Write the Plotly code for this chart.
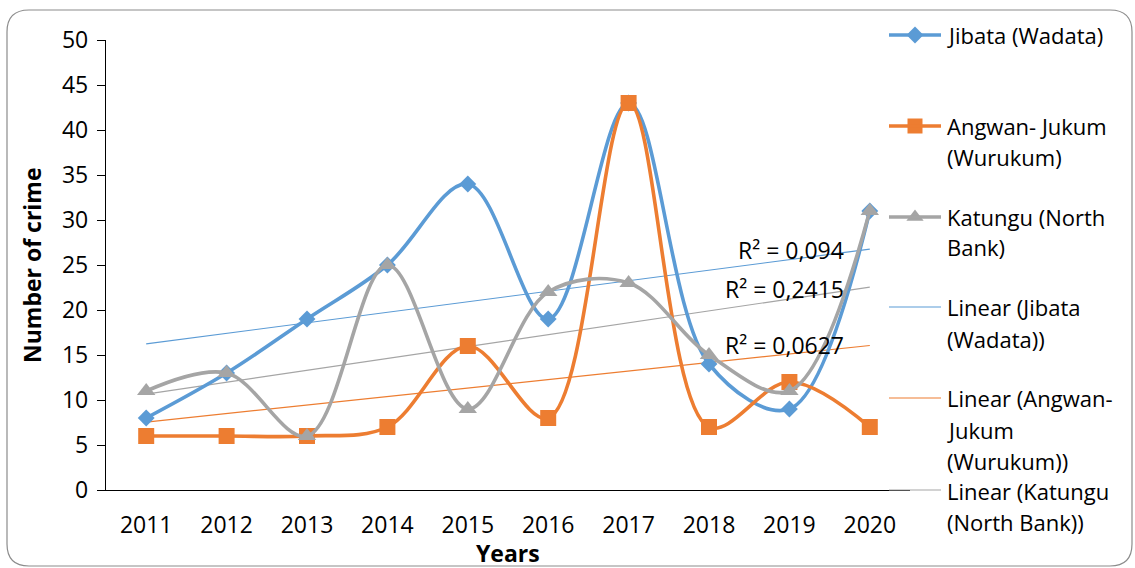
import numpy as np
import plotly.graph_objects as go

# Annual number of crimes per area
years = [2011, 2012, 2013, 2014, 2015, 2016, 2017, 2018, 2019, 2020]
jibata = [8, 13, 19, 25, 34, 19, 43, 14, 9, 31]
angwan = [6, 6, 6, 7, 16, 8, 43, 7, 12, 7]
katungu = [11, 13, 6, 25, 9, 22, 23, 15, 11, 31]

series_names = ["Jibata (Wadata)", "Angwan- Jukum (Wurukum)", "Katungu (North Bank)"]
r2_labels = ["R² = 0,094", "R² = 0,0627", "R² = 0,2415"]

BLUE, ORANGE, GRAY = "#5B9BD5", "#ED7D31", "#A5A5A5"
FONT = "Open Sans"
FS = 23
W, H = 1135, 568

# plot-area placement in pixels
PL, PR, PT, PB = 106, 910, 40, 490

fig = go.Figure()

series = [
    (jibata, BLUE, "diamond", 13),
    (angwan, ORANGE, "square", 16),
    (katungu, GRAY, "triangle-up", 16),
]

x = np.array(years, dtype=float)
# linear trendlines (drawn beneath the smoothed series)
for (vals, color, _, _) in series:
    k, b = np.polyfit(x, np.array(vals, dtype=float), 1)
    fig.add_trace(go.Scatter(
        x=years, y=k * x + b, mode="lines",
        line=dict(color=color, width=1.2),
        hoverinfo="skip", showlegend=False))

for (vals, color, sym, size) in series:
    fig.add_trace(go.Scatter(
        x=years, y=vals, mode="lines+markers",
        line=dict(color=color, width=3.6, shape="spline", smoothing=1.0),
        marker=dict(symbol=sym, size=size, color=color),
        showlegend=False))

# pixel-space overlay for the frame and the legend
fig.add_trace(go.Scatter(x=[None], y=[None], xaxis="x2", yaxis="y2", showlegend=False))

def legend_line(y, color, width, sym=None, size=0):
    fig.add_shape(type="line", xref="x2", yref="y2", x0=889, x1=941, y0=y, y1=y,
                  line=dict(color=color, width=width))
    if sym:
        fig.add_trace(go.Scatter(x=[915], y=[y], xaxis="x2", yaxis="y2", mode="markers",
                                 marker=dict(symbol=sym, size=size, color=color),
                                 showlegend=False, hoverinfo="skip"))

def legend_text(lines, ys):
    for t, y in zip(lines, ys):
        fig.add_annotation(x=945, y=y, xref="x2", yref="y2", text=t, showarrow=False,
                           xanchor="left", yanchor="middle",
                           font=dict(family=FONT, size=22, color="#000000"))

legend_line(35, BLUE, 3.4, "diamond", 13)
legend_text(["Jibata (Wadata)"], [35])
legend_line(126, ORANGE, 3.4, "square", 15)
legend_text(["Angwan- Jukum", "(Wurukum)"], [126, 157])
legend_line(217, GRAY, 3.4, "triangle-up", 15)
legend_text(["Katungu (North", "Bank)"], [217, 247])
legend_line(307, BLUE, 1.2)
legend_text(["Linear (Jibata", "(Wadata))"], [307, 339])
legend_line(398, ORANGE, 1.2)
legend_text(["Linear (Angwan-", "Jukum", "(Wurukum))"], [398, 430, 461])
legend_line(490, GRAY, 1.2)
legend_text(["Linear (Katungu", "(North Bank))"], [491, 522])

# rounded chart frame
l, t, r, b, rad = 7, 10, 1132, 566, 22
frame = (f"M {l+rad},{t} L {r-rad},{t} Q {r},{t} {r},{t+rad} L {r},{b-rad} "
         f"Q {r},{b} {r-rad},{b} L {l+rad},{b} Q {l},{b} {l},{b-rad} "
         f"L {l},{t+rad} Q {l},{t} {l+rad},{t} Z")
fig.add_shape(type="path", path=frame, xref="x2", yref="y2",
              line=dict(color="#8C8C8C", width=1.2), layer="below")

# R² labels next to the trendlines
for txt, y in zip([r2_labels[0], r2_labels[2], r2_labels[1]], [250, 289, 345]):
    fig.add_annotation(x=846, y=y, xref="x2", yref="y2", text=txt, showarrow=False,
                       xanchor="right", yanchor="middle",
                       font=dict(family=FONT, size=FS, color="#000000"))

# axis titles
fig.add_annotation(x=32, y=265, xref="x2", yref="y2", text="<b>Number of crime</b>",
                   textangle=-90, showarrow=False,
                   font=dict(family=FONT, size=FS, color="#000000"))
fig.add_annotation(x=508, y=553, xref="x2", yref="y2", text="<b>Years</b>",
                   showarrow=False, font=dict(family=FONT, size=FS, color="#000000"))

fig.update_layout(
    width=W, height=H,
    margin=dict(l=0, r=0, t=0, b=0, pad=0, autoexpand=False),
    paper_bgcolor="white", plot_bgcolor="rgba(0,0,0,0)",
    showlegend=False,
    font=dict(family=FONT, size=FS, color="#000000"),
    xaxis=dict(domain=[PL / W, PR / W], range=[2010.5, 2020.5],
               tickvals=years, ticktext=[str(v) for v in years],
               showgrid=False, zeroline=False, showline=True, automargin=False,
               linecolor="#000000", linewidth=1.3, ticks="",
               ticklabelstandoff=14, tickfont=dict(size=FS)),
    yaxis=dict(domain=[(H - PB) / H, (H - PT) / H], range=[0, 50], dtick=5,
               showgrid=False, zeroline=False, showline=True, automargin=False,
               linecolor="#000000", linewidth=1.3, ticks="outside", ticklen=8,
               tickcolor="#000000", tickfont=dict(size=FS), ticklabelstandoff=4),
    xaxis2=dict(domain=[0, 1], range=[0, W], anchor="y2", visible=False,
                fixedrange=True, automargin=False),
    yaxis2=dict(domain=[0, 1], range=[H, 0], anchor="x2", visible=False,
                fixedrange=True, automargin=False),
)

fig.write_html("out.html")
